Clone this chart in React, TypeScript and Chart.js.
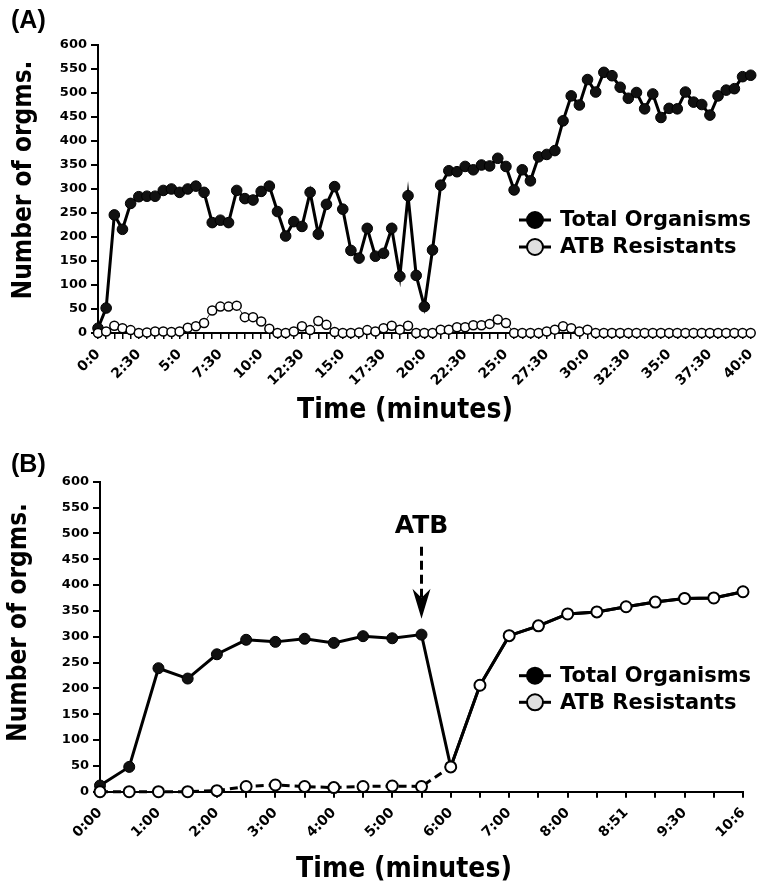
import React, { useEffect, useRef } from 'react';
import { Chart, registerables } from 'chart.js';

Chart.register(...registerables);

// ---------- DATA ----------
const seriesNames = ['Total Organisms', 'ATB Resistants'];
const yMin = 0;
const yMax = 600;
const yStep = 50;

// Panel A: samples every 30 s from 0:0 to 40:0 (81 points), labelled every 2:30
const tickLabelsA = ['0:0', '2:30', '5:0', '7:30', '10:0', '12:30', '15:0', '17:30', '20:0', '22:30', '25:0', '27:30', '30:0', '32:30', '35:0', '37:30', '40:0'];
const totalA = [
  10, 52, 246, 216, 270, 284, 285, 285, 297, 300,
  293, 300, 306, 293, 230, 235, 230, 297, 280, 277,
  295, 306, 253, 202, 232, 222, 293, 206, 268, 305,
  258, 172, 156, 218, 160, 166, 218, 118, 286, 120,
  55, 173, 308, 338, 336, 347, 340, 350, 348, 364,
  347, 298, 340, 317, 367, 372, 380, 442, 494, 475,
  528, 502, 543, 536, 512, 489, 501, 467, 498, 449,
  468, 467, 502, 481, 476, 454, 494, 506, 509, 534,
  537,
];
const resistantA = [
  0, 3, 15, 10, 6, 0, 1, 3, 3, 2,
  3, 11, 14, 21, 47, 55, 55, 57, 33, 33,
  24, 9, 0, 0, 3, 14, 6, 25, 17, 2,
  0, 0, 1, 6, 3, 10, 15, 7, 15, 0,
  0, 0, 7, 7, 12, 12, 16, 16, 19, 28,
  21, 0, 0, 0, 0, 3, 7, 14, 10, 3,
  7, 0, 0, 0, 0, 0, 0, 0, 0, 0,
  0, 0, 0, 0, 0, 0, 0, 0, 0, 0,
  0,
];

// Panel B: 23 samples, labelled every other one
const tickLabelsB = ['0:00', '1:00', '2:00', '3:00', '4:00', '5:00', '6:00', '7:00', '8:00', '8:51', '9:30', '10:6'];
const totalB = [12, 48, 239, 219, 266, 294, 290, 296, 288, 301, 297, 304, 48, 206, 302, 321, 344, 348, 358, 367, 374, 375, 387];
const resistantB = [0, 0, 0, 0, 2, 10, 13, 10, 8, 10, 11, 10, 48, 206, 302, 321, 344, 348, 358, 367, 374, 375, 387];
const atbIndexB = 11; // antibiotic added at this sample
const atbLabel = 'ATB';

const yTitle = 'Number of orgms.';
const xTitle = 'Time (minutes)';

const categoriesA = totalA.map((_, i) => (i % 5 === 0 ? tickLabelsA[i / 5] : ''));
const categoriesB = totalB.map((_, i) => (i % 2 === 0 ? tickLabelsB[i / 2] : ''));

const FAMILY = '"DejaVu Sans", sans-serif';

type PanelCfg = {
  id: string;
  panel: string;
  panelY: number;
  yTitleX: number;
  yTitleY: number;
  xTitleX: number;
  xTitleY: number;
  legendY: number[];
  atb?: boolean;
};

function annotPlugin(cfg: PanelCfg) {
  return {
    id: 'annot' + cfg.id,
    afterDraw(chart: any) {
      const ctx = chart.ctx as CanvasRenderingContext2D;
      ctx.save();
      ctx.fillStyle = '#000';
      ctx.strokeStyle = '#000';

      // panel label
      ctx.font = 'bold 25px "Liberation Sans", sans-serif';
      ctx.textAlign = 'left';
      ctx.textBaseline = 'middle';
      ctx.fillText(cfg.panel, 11, cfg.panelY);

      // y title
      ctx.save();
      ctx.translate(cfg.yTitleX, cfg.yTitleY);
      ctx.rotate(-Math.PI / 2);
      ctx.scale(0.9, 1);
      ctx.font = 'bold 26px ' + FAMILY;
      ctx.textAlign = 'center';
      ctx.textBaseline = 'alphabetic';
      ctx.fillText(yTitle, 0, 0);
      ctx.restore();

      // x title
      ctx.save();
      ctx.translate(cfg.xTitleX, cfg.xTitleY);
      ctx.scale(0.9, 1);
      ctx.font = 'bold 28px ' + FAMILY;
      ctx.textAlign = 'center';
      ctx.textBaseline = 'alphabetic';
      ctx.fillText(xTitle, 0, 0);
      ctx.restore();

      // legend
      const lx = 535;
      const fills = ['#000', '#e0e0e0'];
      seriesNames.forEach((name, i) => {
        const y = cfg.legendY[i];
        ctx.lineWidth = 3;
        ctx.beginPath();
        ctx.moveTo(lx - 16, y);
        ctx.lineTo(lx + 16, y);
        ctx.stroke();
        ctx.beginPath();
        ctx.arc(lx, y, 8, 0, Math.PI * 2);
        ctx.fillStyle = fills[i];
        ctx.fill();
        ctx.lineWidth = 2;
        ctx.stroke();
        ctx.fillStyle = '#000';
        ctx.font = 'bold 21px ' + FAMILY;
        ctx.textAlign = 'left';
        ctx.textBaseline = 'middle';
        ctx.fillText(name, 560, y + 1);
      });

      // ATB arrow
      if (cfg.atb) {
        const x = chart.scales.x.getPixelForValue(atbIndexB);
        const py = chart.scales.y.getPixelForValue(totalB[atbIndexB]);
        const tip = py - 16;
        ctx.font = 'bold 25px ' + FAMILY;
        ctx.textAlign = 'center';
        ctx.textBaseline = 'middle';
        ctx.fillText(atbLabel, x, py - 108);
        ctx.lineWidth = 3;
        ctx.setLineDash([9, 5]);
        ctx.beginPath();
        ctx.moveTo(x, py - 88);
        ctx.lineTo(x, tip - 20);
        ctx.stroke();
        ctx.setLineDash([]);
        ctx.beginPath();
        ctx.moveTo(x, tip);
        ctx.lineTo(x - 9, tip - 30);
        ctx.lineTo(x, tip - 21);
        ctx.lineTo(x + 9, tip - 30);
        ctx.closePath();
        ctx.fill();
      }
      ctx.restore();
    },
  };
}

function makeScales(yWidth: number, xHeight: number, xTickWidth: number, xPad: number) {
  return {
    x: {
      type: 'category' as const,
      offset: false,
      grid: { display: true, drawOnChartArea: false, drawTicks: true, tickLength: 6, color: '#000', lineWidth: xTickWidth },
      border: { display: true, color: '#000', width: 2 },
      ticks: {
        autoSkip: false,
        maxRotation: 45,
        minRotation: 45,
        padding: xPad,
        color: '#000',
        font: { family: FAMILY, size: 14, weight: 'bold' as const },
      },
      afterFit: (s: any) => {
        s.height = xHeight;
        s.paddingLeft = 0;
        s.paddingRight = 0;
      },
    },
    y: {
      min: yMin,
      max: yMax,
      grid: { display: true, drawOnChartArea: false, drawTicks: true, tickLength: 7, color: '#000', lineWidth: 2 },
      border: { display: true, color: '#000', width: 2 },
      ticks: {
        stepSize: yStep,
        padding: 4,
        color: '#000',
        font: { family: FAMILY, size: 13, weight: 'bold' as const },
      },
      afterFit: (s: any) => { s.width = yWidth; },
    },
  };
}

function PanelA() {
  const ref = useRef<HTMLCanvasElement>(null);
  useEffect(() => {
    const chart = new Chart(ref.current!, {
      type: 'line',
      data: {
        labels: categoriesA,
        datasets: [
          {
            label: seriesNames[1],
            data: resistantA,
            borderColor: '#222',
            borderWidth: 1,
            pointRadius: 4.5,
            pointBackgroundColor: '#fff',
            pointBorderColor: '#000',
            pointBorderWidth: 1.5,
            tension: 0,
            clip: false as any,
            order: 0,
          },
          {
            label: seriesNames[0],
            data: totalA,
            borderColor: '#000',
            borderWidth: 3,
            pointRadius: 5.3,
            pointBackgroundColor: '#111',
            pointBorderColor: '#000',
            pointBorderWidth: 1,
            tension: 0,
            clip: false as any,
            order: 1,
          },
        ],
      },
      options: {
        responsive: false,
        animation: false,
        devicePixelRatio: 1,
        layout: { padding: { left: 0, right: 5, top: 45, bottom: 0 } },
        plugins: { legend: { display: false }, tooltip: { enabled: false } },
        scales: makeScales(98, 440 - 333, 1.5, 7) as any,
      },
      plugins: [
        annotPlugin({
          id: 'A', panel: '(A)', panelY: 21,
          yTitleX: 31, yTitleY: 180,
          xTitleX: 405, xTitleY: 418,
          legendY: [220, 247],
        }),
      ],
    });
    return () => chart.destroy();
  }, []);
  return <canvas ref={ref} width={757} height={440} style={{ position: 'absolute', left: 0, top: 0, display: 'block' }} />;
}

function PanelB() {
  const ref = useRef<HTMLCanvasElement>(null);
  useEffect(() => {
    const chart = new Chart(ref.current!, {
      type: 'line',
      data: {
        labels: categoriesB,
        datasets: [
          {
            label: seriesNames[1],
            data: resistantB,
            borderColor: '#000',
            borderWidth: 3,
            pointRadius: 5.5,
            pointBackgroundColor: '#fff',
            pointBorderColor: '#000',
            pointBorderWidth: 2,
            tension: 0,
            clip: false as any,
            order: 0,
            segment: {
              borderDash: (c: any) => (c.p1DataIndex <= atbIndexB + 1 ? [8, 5] : undefined),
            },
          },
          {
            label: seriesNames[0],
            data: totalB,
            borderColor: '#000',
            borderWidth: 3,
            pointRadius: 5.5,
            pointBackgroundColor: '#111',
            pointBorderColor: '#000',
            pointBorderWidth: 1,
            tension: 0,
            clip: false as any,
            order: 1,
          },
        ],
      },
      options: {
        responsive: false,
        animation: false,
        devicePixelRatio: 1,
        layout: { padding: { left: 0, right: 14, top: 41.7, bottom: 0 } },
        plugins: { legend: { display: false }, tooltip: { enabled: false } },
        scales: makeScales(100, 445 - 351.7, 2, 7) as any,
      },
      plugins: [
        annotPlugin({
          id: 'B', panel: '(B)', panelY: 25,
          yTitleX: 26, yTitleY: 182.5,
          xTitleX: 404, xTitleY: 437,
          legendY: [235.7, 262.3],
          atb: true,
        }),
      ],
    });
    return () => chart.destroy();
  }, []);
  return <canvas ref={ref} width={757} height={445} style={{ position: 'absolute', left: 0, top: 440, display: 'block' }} />;
}

export default function App() {
  return (
    <div style={{ position: 'absolute', left: 0, top: 0, width: 757, height: 885, background: '#fff' }}>
      <PanelA />
      <PanelB />
    </div>
  );
}
